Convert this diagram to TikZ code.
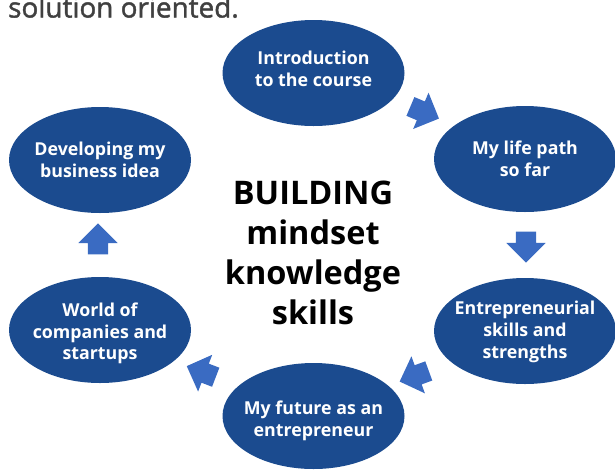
\documentclass[tikz,border=0pt]{standalone}
\usepackage{fontspec}
\setmainfont{Open Sans}
\newfontfamily\titlefont{Open Sans}[FakeBold=1.5]
\usetikzlibrary{shapes.geometric,shapes.arrows}
\definecolor{ellblue}{RGB}{27,75,143}
\definecolor{arrblue}{RGB}{58,107,194}
\definecolor{titlegray}{RGB}{64,64,64}
\tikzset{
  stage/.style={ellipse, fill=ellblue, minimum width=182pt, minimum height=106pt, inner sep=0pt},
  stagetext/.style={inner sep=0pt, text=white, font=\bfseries\fontsize{17.8}{21.7}\selectfont, align=center},
  barrow/.style={single arrow, fill=arrblue, inner xsep=0pt, inner ysep=10pt, minimum height=31pt,
    single arrow head extend=9.5pt, single arrow head indent=0pt, anchor=center},
}
\begin{document}
\begin{tikzpicture}[x=1pt,y=-1pt]
\useasboundingbox (0,0) rectangle (615,472);
\node[anchor=base west, inner sep=0pt, text=titlegray, font=\titlefont\fontsize{27.9}{30}\selectfont] (title) at (8,17.5) {solution oriented.};
\node[stage] (intro) at (313.5,73) {};
\node[stagetext] (introT) at (313.5,69) {Introduction\\to the course};
\node[stage] (life) at (525,159) {};
\node[stagetext] (lifeT) at (525,159) {My life path\\so far};
\node[stage] (entre) at (525,331) {};
\node[stagetext] (entreT) at (525,332) {Entrepreneurial\\skills and\\strengths};
\node[stage] (future) at (313.5,416) {};
\node[stagetext] (futureT) at (313.5,421) {My future as an\\entrepreneur};
\node[stage] (world) at (100,330) {};
\node[stagetext] (worldT) at (100,333.5) {World of\\companies and\\startups};
\node[stage] (idea) at (100,160) {};
\node[stagetext] (ideaT) at (100,160) {Developing my\\business idea};
\node[align=center, inner sep=0pt, font=\bfseries\fontsize{32.5}{40}\selectfont] (center) at (313,253) {BUILDING\\mindset\\knowledge\\skills};
\node[barrow, rotate=-23] (a1) at (420,110.5) {};
\node[barrow, rotate=-90] (a2) at (526,242) {};
\node[barrow, rotate=200] (a3) at (419,374.5) {};
\node[barrow, rotate=159] (a4) at (206,373.5) {};
\node[barrow, rotate=90] (a5) at (98,244) {};
\end{tikzpicture}
\end{document}
